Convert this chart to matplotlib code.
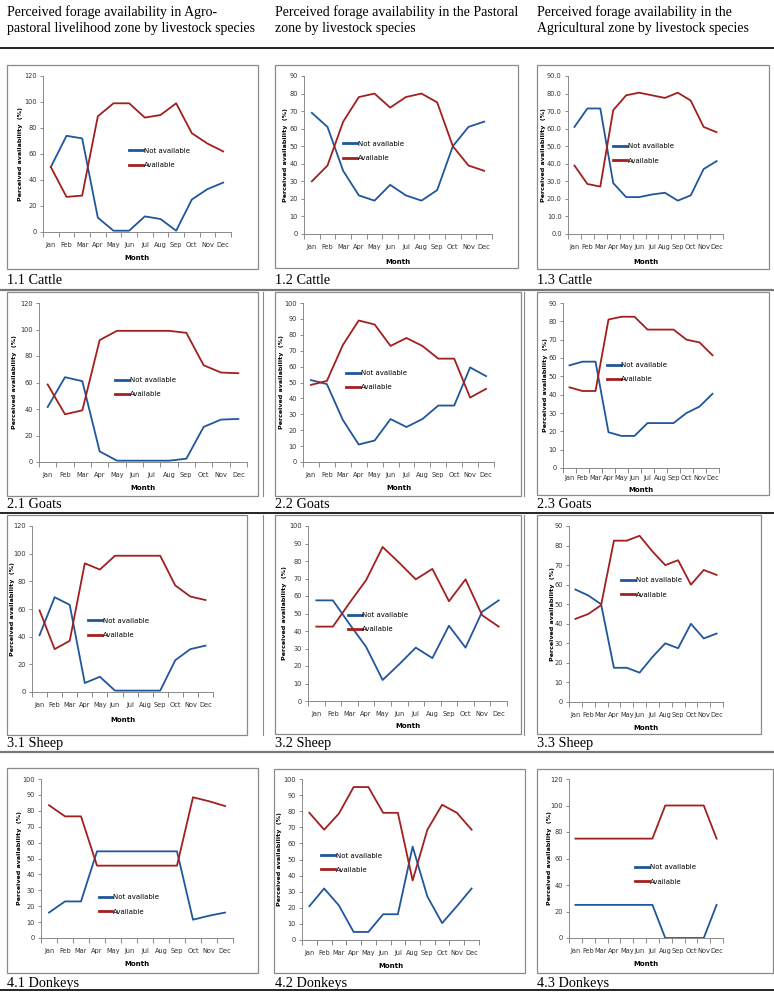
import numpy as np
import matplotlib
matplotlib.use('Agg')
import matplotlib.pyplot as plt
from matplotlib.patches import Rectangle
from matplotlib.lines import Line2D
from matplotlib.ticker import FormatStrFormatter

W, H = 774, 992
months = ['Jan', 'Feb', 'Mar', 'Apr', 'May', 'Jun', 'Jul', 'Aug', 'Sep', 'Oct', 'Nov', 'Dec']
series_names = ['Not available', 'Available']

headers = ['Perceived forage availability in Agro-\npastoral livelihood zone by livestock species',
           'Perceived forage availability in the Pastoral\nzone by livestock species',
           'Perceived forage availability in the\nAgricultural zone by livestock species']
captions = ['1.1 Cattle', '1.2 Cattle', '1.3 Cattle',
            '2.1 Goats', '2.2 Goats', '2.3 Goats',
            '3.1 Sheep', '3.2 Sheep', '3.3 Sheep',
            '4.1 Donkeys', '4.2 Donkeys', '4.3 Donkeys']

# values (%)
cattle_agp_not = [50, 74, 72, 11, 1, 1, 12, 10, 1, 25, 33, 38]
cattle_agp_av = [50, 27, 28, 89, 99, 99, 88, 90, 99, 76, 68, 62]
cattle_past_not = [69, 61, 36, 22, 19, 28, 22, 19, 25, 50, 61, 64]
cattle_past_av = [30, 39, 64, 78, 80, 72, 78, 80, 75, 50, 39, 36]
cattle_agr_not = [61, 71.5, 71.5, 29, 21, 21, 22.5, 23.5, 19, 22, 37, 41.5]
cattle_agr_av = [39, 28.5, 27, 70.5, 79, 80.5, 79, 77.5, 80.5, 76, 61, 58]

goats_agp_not = [41.5, 64, 61, 8, 1, 1, 1, 1, 2.5, 26.5, 32, 32.5]
goats_agp_av = [58.5, 36, 39, 92, 99, 99, 99, 99, 97.5, 73, 67.5, 67]
goats_past_not = [51.5, 49, 26.5, 11, 13.5, 27, 22, 27, 35.5, 35.5, 59.5, 54]
goats_past_av = [48.5, 51, 73.5, 89, 86.5, 73, 78, 73, 65, 65, 40.5, 46]
goats_agr_not = [56, 58, 58, 19.5, 17.5, 17.5, 24.5, 24.5, 24.5, 30, 33.5, 40.5]
goats_agr_av = [44, 42, 42, 81, 82.5, 82.5, 75.5, 75.5, 75.5, 70, 68.5, 61.5]

sheep_agp_not = [41, 68.5, 63, 6.5, 11, 1, 1, 1, 1, 23, 31, 33.5]
sheep_agp_av = [59, 31, 37, 93, 88.5, 98.5, 98.5, 98.5, 98.5, 77, 69, 66.5]
sheep_past_not = [57.5, 57.5, 44, 31, 12, 21, 30.5, 24.5, 43, 30.5, 51, 57.5]
sheep_past_av = [42.5, 42.5, 56, 69, 88, 79, 69.5, 75.5, 57, 69.5, 49, 42.5]
sheep_agr_not = [57.5, 54.5, 50, 17.5, 17.5, 15, 23, 30, 27.5, 40, 32.5, 35]
sheep_agr_av = [42.5, 45, 49.5, 82.5, 82.5, 85, 77, 70, 72.5, 60, 67.5, 65]

donkeys_agp_not = [16, 23, 23, 54.5, 54.5, 54.5, 54.5, 54.5, 54.5, 11.5, 14, 16]
donkeys_agp_av = [83.5, 76.5, 76.5, 45.5, 45.5, 45.5, 45.5, 45.5, 45.5, 88.5, 86, 83]
donkeys_past_not = [21, 32, 21.5, 5, 5, 16, 16, 58, 27, 10.5, 21, 32]
donkeys_past_av = [79, 68.5, 78.5, 95, 95, 79, 79, 37, 68.5, 84, 79, 68.5]
donkeys_agr_not = [25, 25, 25, 25, 25, 25, 25, 0, 0, 0, 0, 25]
donkeys_agr_av = [75, 75, 75, 75, 75, 75, 75, 100, 100, 100, 100, 75]

data = [(cattle_agp_not, cattle_agp_av), (cattle_past_not, cattle_past_av), (cattle_agr_not, cattle_agr_av),
        (goats_agp_not, goats_agp_av), (goats_past_not, goats_past_av), (goats_agr_not, goats_agr_av),
        (sheep_agp_not, sheep_agp_av), (sheep_past_not, sheep_past_av), (sheep_agr_not, sheep_agr_av),
        (donkeys_agp_not, donkeys_agp_av), (donkeys_past_not, donkeys_past_av), (donkeys_agr_not, donkeys_agr_av)]

# layout in pixels: frame (l,t,r,b), axes (l,t,r,b), y max, y step,
# legend (x, y1, y2) in axes fraction, ylabel centre x px, "Month" centre y px
layout = [
    ((7, 65, 258, 269), (43, 76, 231, 232), 120, 20, (0.46, 0.53, 0.42), 20, 259),
    ((275, 65, 518, 268), (304, 76, 492, 234), 90, 10, (0.21, 0.58, 0.47), 285, 262),
    ((537, 65, 769, 269), (568, 76, 723, 234), 90, 10, (0.29, 0.56, 0.46), 543, 262),
    ((7, 292, 258, 496), (39, 303, 247, 462), 120, 20, (0.365, 0.52, 0.42), 14, 488),
    ((275, 292, 521, 496), (303, 303, 494, 462), 100, 10, (0.225, 0.57, 0.46), 281, 488),
    ((537, 292, 769, 495), (563, 303, 719, 468), 90, 10, (0.28, 0.63, 0.53), 545, 490),
    ((7, 515, 247, 735), (32, 526, 213, 692), 120, 20, (0.31, 0.44, 0.33), 12, 721),
    ((275, 515, 521, 734), (308, 526, 507, 701), 100, 10, (0.20, 0.50, 0.40), 284, 727),
    ((537, 515, 761, 734), (569, 526, 723, 702), 90, 10, (0.34, 0.70, 0.60), 552, 728),
    ((7, 768, 258, 973), (41, 779, 233, 938), 100, 10, (0.30, 0.26, 0.16), 19, 965),
    ((274, 769, 525, 973), (302, 779, 479, 940), 100, 10, (0.11, 0.53, 0.43), 279, 967),
    ((537, 769, 773, 973), (569, 779, 723, 938), 120, 20, (0.43, 0.45, 0.35), 549, 964),
]
caption_y = [281, 505, 743, 983]
col_x = [7, 275, 537]

blue = '#1f569c'
red = '#a21f1f'
grey = '#8a8a8a'
sans = ['Liberation Sans Narrow', 'DejaVu Sans']
serif = ['Liberation Serif', 'DejaVu Serif']

fig = plt.figure(figsize=(W / 100, H / 100), dpi=100)


def fr(l, t, r, b):
    return [l / W, 1 - b / H, (r - l) / W, (b - t) / H]


def hline(y, x0=0, x1=W, c='k', lw=1.2):
    fig.add_artist(Line2D([x0 / W, x1 / W], [1 - y / H, 1 - y / H], color=c, lw=lw))


def vline(x, y0, y1, c=grey, lw=0.8):
    fig.add_artist(Line2D([x / W, x / W], [1 - y0 / H, 1 - y1 / H], color=c, lw=lw))


for i, h in enumerate(headers):
    fig.text(col_x[i] / W, 1 - 20 / H, h, family=serif, fontsize=10, va='center', ha='left', linespacing=1.25)
hline(48)
hline(290, c='#777777', lw=1.6)
hline(513)
hline(752, c='#777777', lw=1.6)
hline(990)
for y0, y1 in [(292, 496), (515, 735)]:
    vline(263, y0, y1)
    vline(524, y0, y1)

for i, (lay, (s_not, s_av)) in enumerate(zip(layout, data)):
    frame, box, ymax, ystep, leg, ylab_x, xlab_y = lay
    fig.add_artist(Rectangle((frame[0] / W, 1 - frame[3] / H), (frame[2] - frame[0]) / W,
                             (frame[3] - frame[1]) / H, transform=fig.transFigure,
                             fill=False, ec=grey, lw=0.9))
    fig.text(col_x[i % 3] / W, 1 - caption_y[i // 3] / H, captions[i], family=serif,
             fontsize=10.3, va='center', ha='left')

    aw, ah = box[2] - box[0], box[3] - box[1]
    ax = fig.add_axes(fr(*box))
    x = np.arange(12)
    l1, = ax.plot(x, s_not, color=blue, lw=1.3)
    l2, = ax.plot(x, s_av, color=red, lw=1.3)
    ax.set_xlim(-0.5, 11.5)
    ax.set_ylim(0, ymax)
    ax.set_yticks(np.arange(0, ymax + 1, ystep))
    if i == 2:
        ax.yaxis.set_major_formatter(FormatStrFormatter('%.1f'))
    ax.set_xticks(np.arange(-0.5, 12, 1))
    ax.set_xticklabels([])
    ax.set_xticks(x, minor=True)
    ax.set_xticklabels(months, minor=True)
    ax.tick_params(axis='x', which='major', length=3.5, color=grey, width=0.7)
    ax.tick_params(axis='x', which='minor', length=0, pad=7 if i != 5 else 5,
                   labelsize=4.8, labelcolor='#333333')
    ax.tick_params(axis='y', length=2.5, color=grey, width=0.7, labelsize=4.8, labelcolor='#333333', pad=2)
    for lab in ax.get_xticklabels(minor=True) + ax.get_yticklabels():
        lab.set_family(sans)
    for s in ['top', 'right']:
        ax.spines[s].set_visible(False)
    for s in ['left', 'bottom']:
        ax.spines[s].set_color(grey)
        ax.spines[s].set_linewidth(0.7)
    ax.set_ylabel('Perceived availability  (%)', family=sans, fontsize=4.6, fontweight='bold')
    ax.yaxis.set_label_coords((ylab_x + 3 - box[0]) / aw, 0.5)
    ax.set_xlabel('Month', family=sans, fontsize=5, fontweight='bold')
    ax.xaxis.set_label_coords(0.5, -(xlab_y - 3.5 - box[3]) / ah)
    lg = ax.legend([l1, l2], series_names, loc='center left',
                   bbox_to_anchor=(leg[0], (leg[1] + leg[2]) / 2), frameon=False,
                   handlelength=2.0, handletextpad=0.1, labelspacing=1.2,
                   borderpad=0, borderaxespad=0, prop={'family': sans, 'size': 5})
    for hl in lg.get_lines():
        hl.set_linewidth(2)

fig.savefig('out.png', dpi=100)
